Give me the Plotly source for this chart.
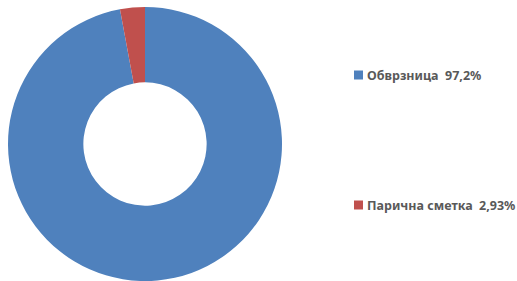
import plotly.graph_objects as go

labels = ["Обврзница", "Парична сметка"]
values = [97.2, 2.93]
value_text = ["97,2%", "2,93%"]
colors = ["#4F81BD", "#C0504D"]

W, H = 517, 281
fig = go.Figure()
fig.add_trace(go.Pie(
    labels=labels, values=values, sort=False, direction="clockwise",
    rotation=0,
    hole=0.45, marker=dict(colors=colors, line=dict(width=0)),
    textinfo="none", hoverinfo="label+percent", showlegend=False,
    domain=dict(x=[8 / W, 282 / W], y=[0, 274 / H]),
))

# legend (drawn as annotations + square shapes)
legend_y = [75, 205]
for idx, ypix in enumerate(legend_y):
    yc = (H - ypix) / H
    fig.add_shape(type="rect", xref="paper", yref="paper",
                  x0=354 / W, x1=363 / W, y0=yc - 4.5 / H, y1=yc + 4.5 / H,
                  fillcolor=colors[idx], line=dict(width=0))
    fig.add_annotation(xref="paper", yref="paper", x=365 / W, y=yc,
                       xanchor="left", yanchor="middle", showarrow=False,
                       text=f"<b>{labels[idx]}  {value_text[idx]}</b>",
                       font=dict(family="Noto Sans", size=12.5, color="#595959"))

fig.update_layout(width=W, height=H, margin=dict(l=0, r=0, t=0, b=0),
                  paper_bgcolor="white", plot_bgcolor="white")
fig.write_html("out.html", config={"displayModeBar": False},
               post_script="document.body.style.margin='0';")
